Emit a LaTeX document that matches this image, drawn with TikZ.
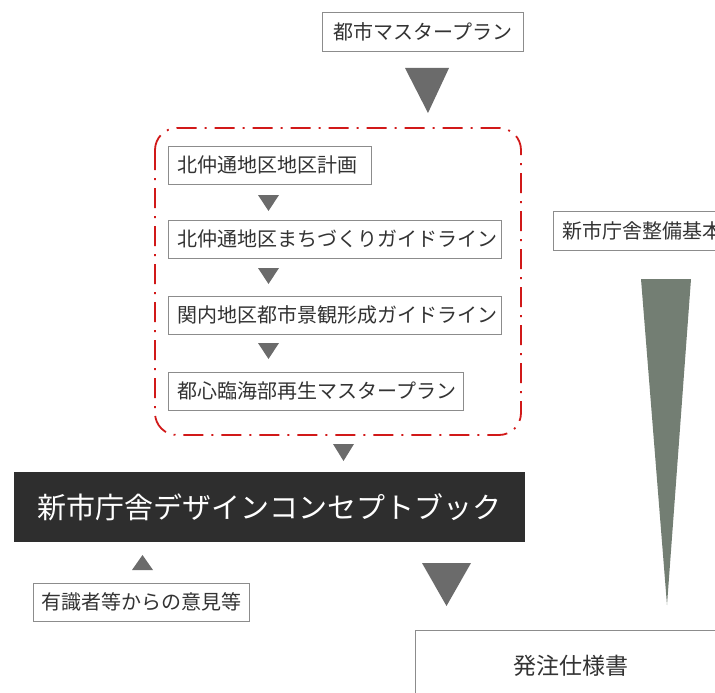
\documentclass[tikz,border=0pt]{standalone}
\usepackage{fontspec}
\newfontfamily\jp{Noto Sans CJK JP}
\begin{document}
\begin{tikzpicture}[x=1pt,y=-1pt,
  lbox/.style={draw=black!45,line width=0.7pt,fill=white,inner sep=0pt,anchor=north west,font=\jp\fontsize{20}{24}\selectfont,text=black!80},
  tri/.style={fill=black!58},
  bigtri/.style={fill=black!55!green!10!gray},
]
\useasboundingbox (0,0) rectangle (715,693);
\clip (0,0) rectangle (715,693);
% boxes
\node[lbox,minimum width=201pt,minimum height=39pt] (toshi) at (322,12) {都市マスタープラン};
\node[lbox,minimum width=203pt,minimum height=38pt,text width=203pt,align=left] (b1) at (168,146) {\hspace*{9pt}北仲通地区地区計画};
\node[lbox,minimum width=333pt,minimum height=38pt,text width=333pt,align=left] (b2) at (168,220) {\hspace*{9pt}北仲通地区まちづくりガイドライン};
\node[lbox,minimum width=333pt,minimum height=38pt,text width=333pt,align=left] (b3) at (168,296) {\hspace*{9pt}関内地区都市景観形成ガイドライン};
\node[lbox,minimum width=295pt,minimum height=38pt,text width=295pt,align=left] (b4) at (168,372) {\hspace*{9pt}都心臨海部再生マスタープラン};
\node[lbox,minimum width=200pt,minimum height=39pt,text width=200pt,align=left] (kihon) at (553,211) {\hspace*{9pt}新市庁舎整備基本};
\node[fill=black!82,inner sep=0pt,anchor=north west,minimum width=511pt,minimum height=70pt,text=white,font=\jp\fontsize{29}{34}\selectfont] (book) at (14,472) {新市庁舎デザインコンセプトブック};
\node[lbox,minimum width=216pt,minimum height=38pt] (iken) at (33,583) {有識者等からの意見等};
\node[lbox,minimum width=330pt,minimum height=70pt,text width=330pt,align=left,font=\jp\fontsize{23}{28}\selectfont] (hatchu) at (415,630) {\hspace*{98pt}発注仕様書};
% red dash-dot frame
\draw[red!80!black!90,line width=1.8pt,rounded corners=22pt,dash pattern=on 20pt off 8pt on 2pt off 8pt] (155,128) rectangle (521,435);
% triangles
\fill[tri] (405,68) -- (449,68) -- (428,113) -- cycle;
\fill[tri] (258,195) -- (279,195) -- (268.5,211) -- cycle;
\fill[tri] (258,268) -- (279,268) -- (268.5,284) -- cycle;
\fill[tri] (258,343) -- (279,343) -- (268.5,359) -- cycle;
\fill[tri] (333,444) -- (354,444) -- (343.5,461) -- cycle;
\fill[tri] (132,570) -- (153,570) -- (142.5,555) -- cycle;
\fill[tri] (422,563) -- (471,563) -- (446.5,606) -- cycle;
\fill[bigtri] (641,279) -- (691,279) -- (667,605) -- cycle;
\end{tikzpicture}
\end{document}
